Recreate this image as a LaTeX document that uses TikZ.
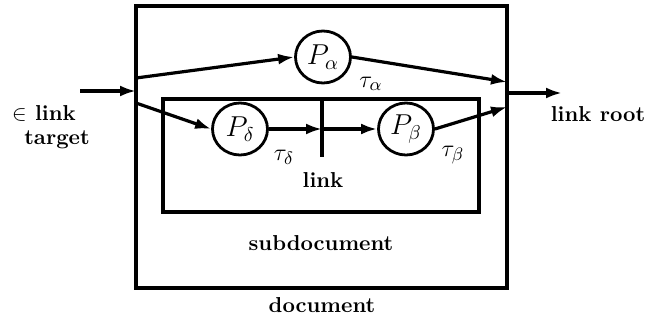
\documentclass[tikz,border=0pt]{standalone}
\usetikzlibrary{arrows.meta,shapes.geometric}
\begin{document}
\begin{tikzpicture}[x=0.5pt,y=-0.5pt,
  boxline/.style={line width=2pt},
  proc/.style={ellipse,draw,line width=1.4pt,minimum width=27.5pt,minimum height=26pt,inner sep=0pt,font=\fontsize{14}{16}\selectfont},
  flow/.style={line width=1.6pt,-{Latex[length=8pt,width=5.5pt]}},
  lbl/.style={font=\bfseries\fontsize{10.8}{12}\selectfont,inner sep=0pt},
  mlbl/.style={inner sep=0pt,font=\fontsize{13}{15}\selectfont}]
\useasboundingbox (0,0) rectangle (647,321);
% boxes
\draw[boxline] (136,6) rectangle (507,288);
\draw[boxline] (163,99) rectangle (479,212);
% coordinates
\coordinate (in) at (80,91);
\coordinate (inE) at (136,91);
\coordinate (sA) at (136,78);
\coordinate (sD) at (136,103);
\coordinate (eA) at (507,82);
\coordinate (eR) at (507,93);
\coordinate (eB) at (507,107);
\coordinate (out) at (562,93);
\coordinate (lkT) at (322,99);
\coordinate (lkB) at (322,157);
\coordinate (lkM) at (322,129);
% processes
\node[proc] (Pa) at (323,57) {$P_\alpha$};
\node[proc] (Pd) at (240,129) {$P_\delta$};
\node[proc] (Pb) at (406,129) {$P_\beta$};
% link line
\draw[line width=1.6pt] (lkT) -- (lkB);
% flows
\draw[flow] (in) -- (inE);
\draw[flow] (sA) -- (Pa.west);
\draw[flow] (sD) -- (Pd.west);
\draw[flow] (Pd.east) -- (lkM);
\draw[flow] (lkM) -- (Pb.west);
\draw[flow] (Pa.east) -- (eA);
\draw[flow] (Pb.east) -- (eB);
\draw[flow] (eR) -- (out);
% labels
\node[mlbl] (ta) at (371,84) {$\tau_\alpha$};
\node[mlbl] (td) at (284,157) {$\tau_\delta$};
\node[mlbl] (tb) at (453,155) {$\tau_\beta$};
\node[lbl] (lk) at (323,180) {link};
\node[lbl] (sub) at (321,243) {subdocument};
\node[lbl] (doc) at (322,305) {document};
\node[lbl] (root) at (598,114) {link root};
\node[lbl] (tg1) at (44,113) {$\in$ link};
\node[lbl] (tg2) at (57,140) {target};
\end{tikzpicture}
\end{document}
